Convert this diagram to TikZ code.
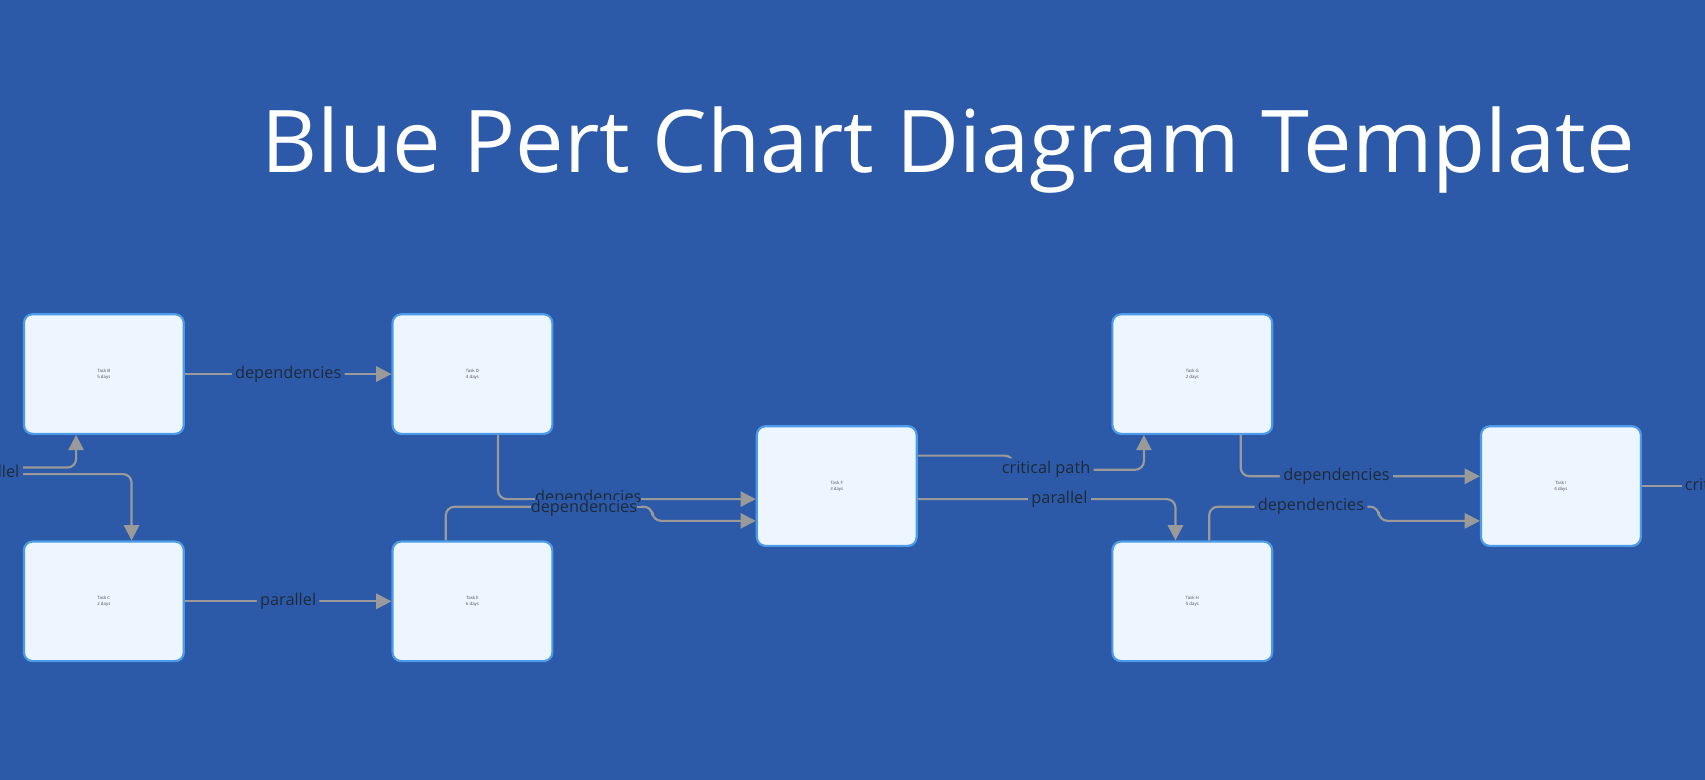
\documentclass[tikz,border=0pt]{standalone}
\usepackage{fontspec}
\setmainfont{Open Sans}
\usetikzlibrary{arrows.meta}
\definecolor{bg}{HTML}{2C5AA8}
\definecolor{boxfill}{HTML}{EDF5FF}
\definecolor{boxline}{HTML}{4C9BE8}
\definecolor{conn}{HTML}{9A9A9A}
\definecolor{lbl}{HTML}{1E2A3A}
\begin{document}
\begin{tikzpicture}[x=0.5pt,y=-0.5pt,
  task/.style={draw=boxline,fill=boxfill,line width=1pt,rounded corners=4pt,minimum width=73.5pt,minimum height=55pt,inner sep=0pt,align=center,font=\fontsize{2}{2.6}\selectfont,text=black!70},
  conn/.style={draw=conn,line width=1pt,rounded corners=4pt},
  arr/.style={conn,-{Triangle[length=7pt,width=7pt]}},
  lab/.style={fill=bg,text=lbl,font=\fontsize{7.5}{8}\selectfont,inner sep=1.5pt}]
\fill[bg] (0,0) rectangle (1568,717);
\useasboundingbox (0,0) rectangle (1568,717);
\clip (0,0) rectangle (1568,717);
\node[text=white,font=\fontsize{39.8}{45}\selectfont] (title) at (872,138) {Blue Pert Chart Diagram Template};
\node[task] (B) at (95.5,344) {Task B\\5 days};
\node[task] (C) at (95.5,553) {Task C\\2 days};
\node[task] (D) at (434.5,344) {Task D\\4 days};
\node[task] (E) at (434.5,553) {Task E\\6 days};
\node[task] (F) at (769.5,447) {Task F\\3 days};
\node[task] (G) at (1096.5,344) {Task G\\2 days};
\node[task] (H) at (1096.5,553) {Task H\\5 days};
\node[task] (I) at (1435.5,447) {Task I\\4 days};
\coordinate (L1) at (-40,430);
\coordinate (L2) at (-40,436);
\coordinate (R1) at (1600,447);
% left incoming
\draw[arr] (L1) -- (70,430) -- (70,399) -- (B.south -| 70,0);
\draw[arr] (L2) -- (121,436) -- (C.north -| 121,0);
\node[lab] at (-8,435) {parallel};
% B->D, C->E
\draw[arr] (B.east |- 0,344) -- node[lab]{dependencies} (D.west |- 0,344);
\draw[arr] (C.east |- 0,553) -- node[lab]{parallel} (E.west |- 0,553);
% D->F, E->F
\draw[arr] (D.south -| 458,0) -- (458,459) -- (F.west |- 0,459);
\draw[arr] (E.north -| 410,0) -- (410,466) -- (600,466) -- (600,479) -- (F.west |- 0,479);
\node[lab,inner sep=0pt] at (541,458) {dependencies};
\node[lab,inner sep=0pt] at (537,467) {dependencies};
% F->G, F->H
\draw[arr] (F.east |- 0,419) -- (932,419) -- (932,432) -- node[lab,pos=0.25]{critical path} (1052,432) -- (G.south -| 1052,0);
\draw[arr] (F.east |- 0,459) -- node[lab,pos=0.55]{parallel} (1081,459) -- (H.north -| 1081,0);
% G->I, H->I
\draw[arr] (G.south -| 1141,0) -- (1141,438) -- node[lab,pos=0.4]{dependencies} (I.west |- 0,438);
\draw[arr] (H.north -| 1112,0) -- (1112,466) -- node[lab,pos=0.6]{dependencies} (1268,466) -- (1268,479) -- (I.west |- 0,479);
% I-> out
\draw[conn] (I.east |- 0,447) -- (R1);
\node[lab,anchor=west] at (1546,447) {critical path};
\end{tikzpicture}
\end{document}
